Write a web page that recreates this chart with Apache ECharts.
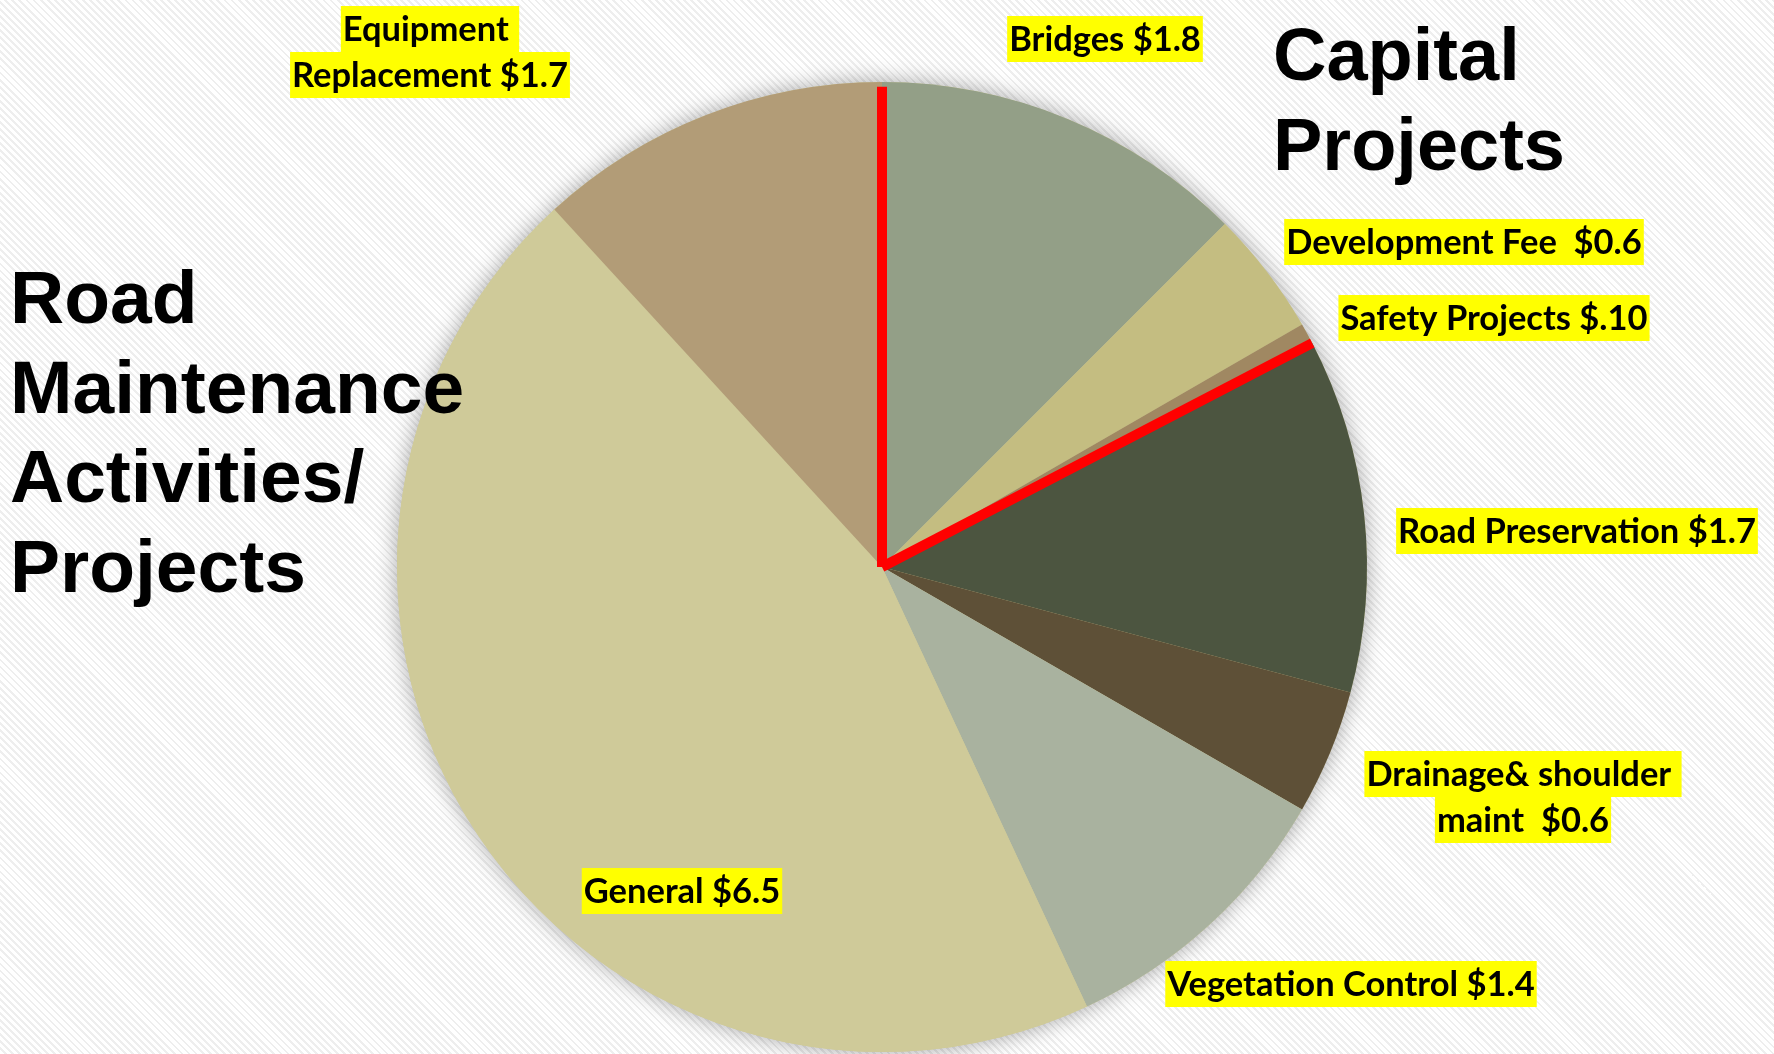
<!DOCTYPE html>
<html>
<head>
<meta charset="utf-8">
<title>Road Maintenance / Capital Projects</title>
<script src="https://cdn.jsdelivr.net/npm/echarts@6/dist/echarts.min.js"></script>
<style>
  html, body {
    margin: 0;
    padding: 0;
  }
  #main {
    width: 1774px;
    height: 1054px;
    background-color: #fbfbfb;
    background-image: repeating-linear-gradient(45deg, #ffffff 0px, #ffffff 3px, #eeeeee 3px, #eeeeee 5px);
  }
</style>
</head>
<body>
<div id="main"></div>
<script>
// slices, clockwise from 12 o'clock
var categories = ['Bridges', 'Development Fee', 'Safety Projects', 'Road Preservation',
  'Drainage& shoulder maint', 'Vegetation Control', 'General', 'Equipment Replacement'];
var values = [1.8, 0.6, 0.1, 1.7, 0.6, 1.4, 6.5, 1.7];
var labelTexts = ['Bridges $1.8', 'Development Fee  $0.6', 'Safety Projects $.10', 'Road Preservation $1.7',
  'Drainage& shoulder \nmaint  $0.6', 'Vegetation Control $1.4', 'General $6.5', 'Equipment \nReplacement $1.7'];
// first slices that count as capital projects
var capitalCount = 3;

var colors = ['#939f87', '#c4bd81', '#a08862', '#4c5540', '#5e5037', '#a9b29f', '#cfca99', '#b29c77'];
// where each label box sits (centre, px)
var labelPos = [[1105, 39], [1464, 242], [1494, 318], [1577, 531], [1523, 797], [1351, 984], [682, 891], [430, 52]];

var total = values.reduce(function (a, b) { return a + b; }, 0);
var capitalEnd = values.slice(0, capitalCount).reduce(function (a, b) { return a + b; }, 0);

var pieCenter = [882, 567];
var pieRadius = 485;

var myChart = echarts.init(document.getElementById('main'), null, { renderer: 'canvas' });

var option = {
  backgroundColor: 'transparent',
  animation: false,
  title: [{
    text: 'Capital\nProjects',
    left: 1273,
    top: 15,
    padding: 0,
    textStyle: { fontFamily: 'Liberation Sans', fontWeight: 'bold', fontSize: 74, lineHeight: 90, color: '#000' }
  }, {
    text: 'Road\nMaintenance\nActivities/\nProjects',
    left: 10,
    top: 258,
    padding: 0,
    textStyle: { fontFamily: 'Liberation Sans', fontWeight: 'bold', fontSize: 75, lineHeight: 89.5, color: '#000' }
  }],
  polar: { center: pieCenter, radius: pieRadius },
  angleAxis: { type: 'value', min: 0, max: total, startAngle: 90, clockwise: true, show: false },
  radiusAxis: { type: 'value', min: 0, max: 1, show: false },
  series: [
    // soft shadow under the pie
    {
      type: 'pie',
      silent: true,
      center: pieCenter,
      radius: pieRadius,
      z: 1,
      label: { show: false },
      labelLine: { show: false },
      itemStyle: { color: '#cfca99', shadowBlur: 22, shadowColor: 'rgba(0,0,0,0.35)' },
      data: [total]
    },
    {
      type: 'pie',
      center: pieCenter,
      radius: pieRadius,
      startAngle: 90,
      clockwise: true,
      z: 2,
      itemStyle: { borderWidth: 0 },
      labelLine: { show: false },
      label: {
        show: true,
        position: 'inside',
        overflow: 'none',
        formatter: function (p) {
          return labelTexts[p.dataIndex].split('\n').map(function (l) { return '{h|' + l + '}'; }).join('\n');
        },
        rich: {
          h: {
            fontFamily: 'Lato',
            fontWeight: 'bold',
            fontSize: 34.5,
            lineHeight: 46,
            color: '#000',
            backgroundColor: '#ffff00',
            padding: [6, 2, 5, 2],
            align: 'center'
          }
        }
      },
      labelLayout: function (p) {
        var pos = labelPos[p.dataIndex];
        return { x: pos[0], y: pos[1], align: 'center', verticalAlign: 'middle' };
      },
      data: categories.map(function (c, i) {
        return { name: c, value: values[i], itemStyle: { color: colors[i] } };
      })
    },
    // red dividers between maintenance and capital slices
    {
      type: 'line',
      coordinateSystem: 'polar',
      z: 5,
      silent: true,
      symbol: 'none',
      lineStyle: { color: '#ff0000', width: 10, cap: 'butt' },
      data: [[0, 0], [0.99, 0]]
    },
    {
      type: 'line',
      coordinateSystem: 'polar',
      z: 5,
      silent: true,
      symbol: 'none',
      lineStyle: { color: '#ff0000', width: 10, cap: 'butt' },
      data: [[0, capitalEnd], [1.02, capitalEnd]]
    }
  ]
};

myChart.setOption(option);
</script>
</body>
</html>
